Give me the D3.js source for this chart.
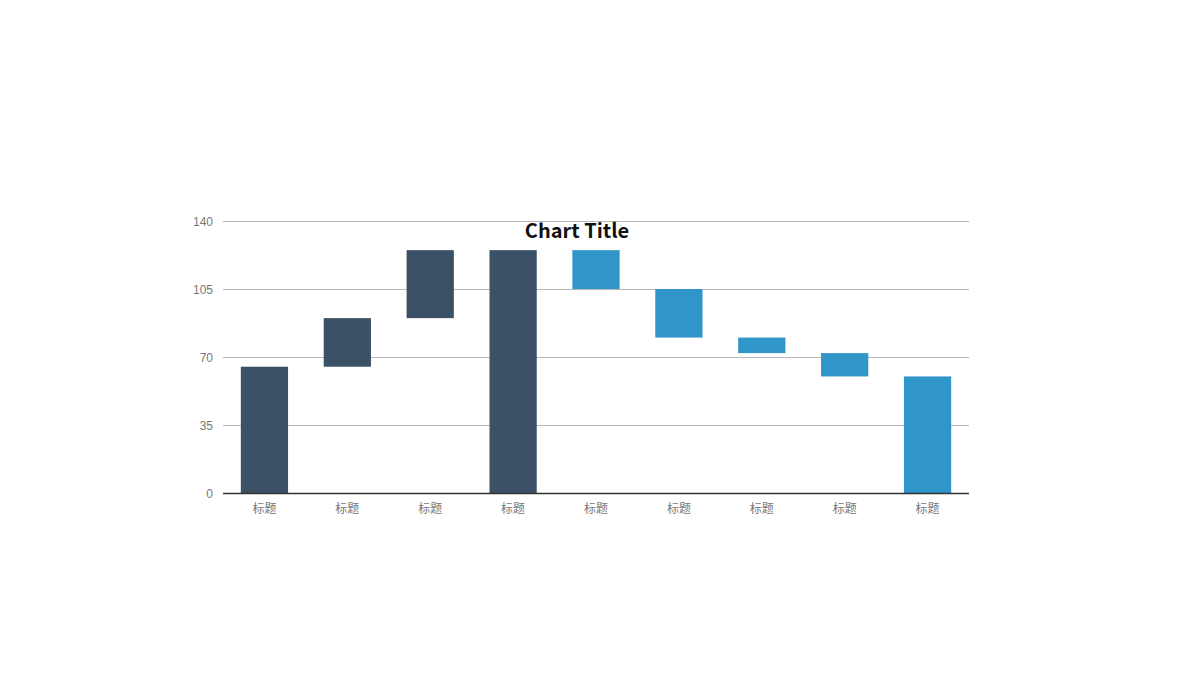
<!DOCTYPE html>
<html><head><meta charset="utf-8">
<script src="https://cdn.jsdelivr.net/npm/d3@7"></script>
<style>body{margin:0;background:#fff}svg{display:block}</style>
</head><body>
<svg id="c" width="1200" height="680"></svg>
<script>
const categories = ["标题","标题","标题","标题","标题","标题","标题","标题","标题"];
const barStart = [0, 65, 90, 0, 125, 105, 80, 72, 0];
const barEnd   = [65, 90, 125, 125, 105, 80, 72, 60, 60];
const barGroup = ["dark","dark","dark","dark","blue","blue","blue","blue","blue"];
const yTicks = [0, 35, 70, 105, 140];
const title = "Chart Title";

const colors = {dark:"#3a5166", blue:"#3095c8"};
const svg = d3.select("#c");
const m = {l:223, r:969, t:221, b:493};
const x = d3.scaleBand().domain(d3.range(categories.length)).range([m.l, m.r]).paddingInner(0.43).paddingOuter(0.215);
const y = d3.scaleLinear().domain([0,140]).range([m.b, m.t]);

const font = "'Noto Sans CJK SC', 'Liberation Sans', Arial, sans-serif";

// gridlines
svg.append("g").selectAll("line").data(yTicks.filter(d=>d>0)).join("line")
  .attr("x1", m.l).attr("x2", m.r).attr("y1", d=>y(d)+0.5).attr("y2", d=>y(d)+0.5)
  .attr("stroke", "#b8b8b8").attr("stroke-width", 1);

// y labels
svg.append("g").selectAll("text").data(yTicks).join("text")
  .attr("x", m.l-10).attr("y", d=>y(d)+1).attr("dy","0.35em").attr("text-anchor","end")
  .attr("font-family","'Liberation Sans', Arial, sans-serif").attr("font-size",12).attr("fill","#777")
  .text(d=>d);

// bars
svg.append("g").selectAll("rect").data(categories).join("rect")
  .attr("x", (d,i)=>x(i)).attr("width", x.bandwidth())
  .attr("y", (d,i)=>y(Math.max(barStart[i], barEnd[i])))
  .attr("height", (d,i)=>Math.abs(y(barStart[i])-y(barEnd[i])))
  .attr("fill", (d,i)=>colors[barGroup[i]]);

// x axis line
svg.append("line").attr("x1", m.l).attr("x2", m.r).attr("y1", m.b+0.5).attr("y2", m.b+0.5)
  .attr("stroke","#333").attr("stroke-width",1.3);

// x labels
svg.append("g").selectAll("text").data(categories).join("text")
  .attr("x", (d,i)=>x(i)+x.bandwidth()/2).attr("y", m.b+16).attr("dy","0.35em")
  .attr("text-anchor","middle").attr("font-family",font).attr("font-size",12).attr("fill","#777")
  .text(d=>d);

// title
svg.append("text").attr("x", 577).attr("y", 231).attr("dy","0.35em").attr("text-anchor","middle")
  .attr("font-family",font).attr("font-size",20).attr("font-weight","bold").attr("fill","#111")
  .text(title);
</script>
</body></html>
